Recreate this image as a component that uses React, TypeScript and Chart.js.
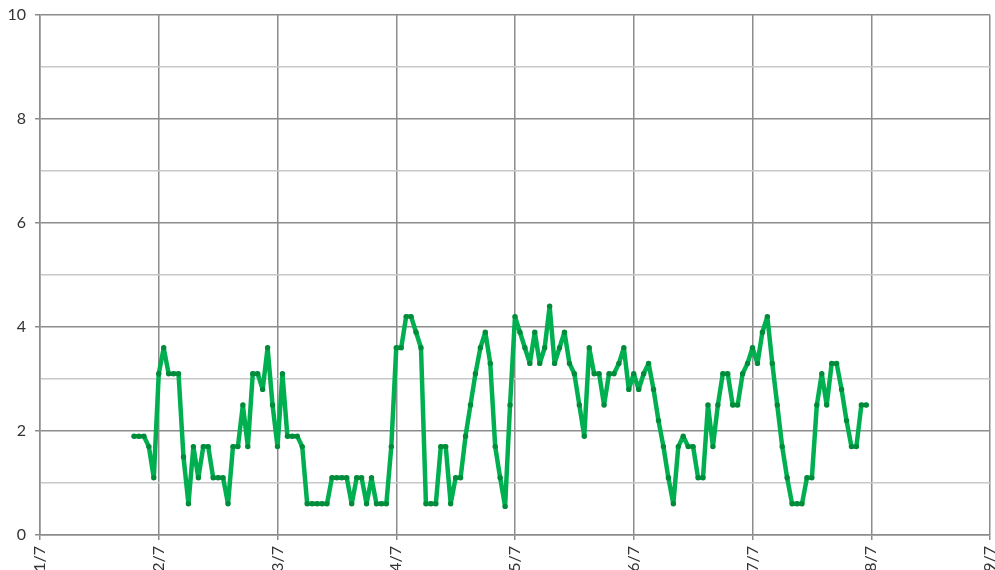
import React, { useEffect, useRef } from "react";
import { Chart, registerables } from "chart.js";

Chart.register(...registerables);

// Hourly readings; first series day starts at 19:00 on 1/7
const START_HOUR = 19;
const day1 = [1.9, 1.9, 1.9, 1.7, 1.1];
const day2 = [3.1, 3.6, 3.1, 3.1, 3.1, 1.5, 0.6, 1.7, 1.1, 1.7, 1.7, 1.1, 1.1, 1.1, 0.6, 1.7, 1.7, 2.5, 1.7, 3.1, 3.1, 2.8, 3.6, 2.5];
const day3 = [1.7, 3.1, 1.9, 1.9, 1.9, 1.7, 0.6, 0.6, 0.6, 0.6, 0.6, 1.1, 1.1, 1.1, 1.1, 0.6, 1.1, 1.1, 0.6, 1.1, 0.6, 0.6, 0.6, 1.7];
const day4 = [3.6, 3.6, 4.2, 4.2, 3.9, 3.6, 0.6, 0.6, 0.6, 1.7, 1.7, 0.6, 1.1, 1.1, 1.9, 2.5, 3.1, 3.6, 3.9, 3.3, 1.7, 1.1, 0.55, 2.5];
const day5 = [4.2, 3.9, 3.6, 3.3, 3.9, 3.3, 3.6, 4.4, 3.3, 3.6, 3.9, 3.3, 3.1, 2.5, 1.9, 3.6, 3.1, 3.1, 2.5, 3.1, 3.1, 3.3, 3.6, 2.8];
const day6 = [3.1, 2.8, 3.1, 3.3, 2.8, 2.2, 1.7, 1.1, 0.6, 1.7, 1.9, 1.7, 1.7, 1.1, 1.1, 2.5, 1.7, 2.5, 3.1, 3.1, 2.5, 2.5, 3.1, 3.3];
const day7 = [3.6, 3.3, 3.9, 4.2, 3.3, 2.5, 1.7, 1.1, 0.6, 0.6, 0.6, 1.1, 1.1, 2.5, 3.1, 2.5, 3.3, 3.3, 2.8, 2.2, 1.7, 1.7, 2.5, 2.5];

const dateLabels = ["1/7", "2/7", "3/7", "4/7", "5/7", "6/7", "7/7", "8/7", "9/7"];
const yMajorLabels = [0, 2, 4, 6, 8, 10];

function buildPoints() {
  const pts: { x: number; y: number }[] = [];
  day1.forEach((v, i) => pts.push({ x: (START_HOUR + i) / 24, y: v }));
  [day2, day3, day4, day5, day6, day7].forEach((arr, d) => {
    arr.forEach((v, h) => pts.push({ x: d + 1 + h / 24, y: v }));
  });
  return pts;
}

const MAJOR = "#8c8c8c";
const MINOR = "#c8c8c8";
const FONT = { family: "Lato, 'Liberation Sans', Arial, sans-serif", size: 16 };

export default function App() {
  const ref = useRef<HTMLCanvasElement>(null);
  useEffect(() => {
    document.body.style.margin = "0";
    const chart = new Chart(ref.current!, {
      type: "line",
      data: {
        datasets: [
          {
            data: buildPoints(),
            borderColor: "#00b050",
            borderWidth: 4.5,
            borderJoinStyle: "round",
            borderCapStyle: "round",
            pointRadius: 2.7,
            pointBackgroundColor: "#008c3a",
            pointBorderColor: "#008c3a",
            pointBorderWidth: 0,
            tension: 0,
            fill: false,
          },
        ],
      },
      options: {
        animation: false,
        responsive: false,
        maintainAspectRatio: false,
        layout: { padding: { top: 15, right: 5, left: 0, bottom: 0 } },
        plugins: { legend: { display: false }, tooltip: { enabled: false } },
        scales: {
          x: {
            type: "linear",
            min: 0,
            max: 8,
            border: { color: MAJOR, width: 1.5 },
            grid: { color: MAJOR, lineWidth: 1.5, tickLength: 5, tickColor: MAJOR },
            ticks: {
              stepSize: 1,
              autoSkip: false,
              maxRotation: 90,
              minRotation: 90,
              padding: 6,
              color: "#333333",
              font: FONT,
              callback: (v: any) => dateLabels[Math.round(Number(v))] ?? "",
            },
            afterFit: (s: any) => {
              s.height = 35;
              s.paddingLeft = 0;
              s.paddingRight = 0;
            },
          },
          y: {
            min: 0,
            max: 10,
            border: { color: MAJOR, width: 1.5 },
            grid: {
              color: (c: any) => (c.tick && c.tick.value % 2 === 0 ? MAJOR : MINOR),
              lineWidth: 1.5,
              tickLength: 5,
              tickColor: (c: any) => (c.tick && c.tick.value % 2 === 0 ? MAJOR : "rgba(0,0,0,0)"),
            },
            ticks: {
              stepSize: 1,
              padding: 9,
              color: "#333333",
              font: FONT,
              callback: (v: any) => (yMajorLabels.includes(Number(v)) ? String(v) : ""),
            },
            afterFit: (s: any) => {
              s.width = 40;
              s.paddingTop = 0;
              s.paddingBottom = 0;
            },
          },
        },
      },
    });
    return () => chart.destroy();
  }, []);
  return (
    <div style={{ width: 995, height: 570, position: "relative" }}>
      <canvas ref={ref} width={995} height={570} style={{ width: 995, height: 570 }} />
    </div>
  );
}
